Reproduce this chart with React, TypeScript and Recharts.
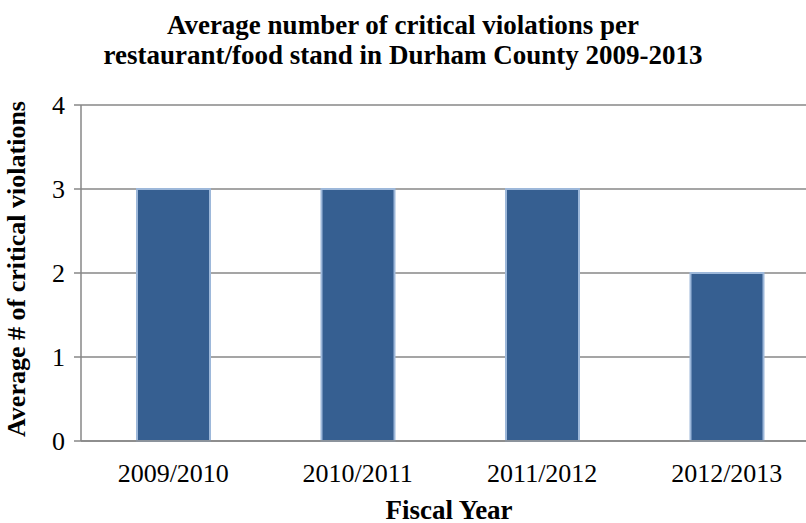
import { BarChart, Bar, XAxis, YAxis, CartesianGrid } from "recharts";

const years = ["2009/2010", "2010/2011", "2011/2012", "2012/2013"];
const avgViolations = [3, 3, 3, 2];
const yTicks = [0, 1, 2, 3, 4];

const data = years.map((year, i) => ({ year, value: avgViolations[i] }));

const FONT = '"Liberation Serif", "Times New Roman", serif';

export default function App() {
  return (
    <div
      style={{
        position: "absolute",
        left: 0,
        top: 0,
        width: 806,
        height: 523,
        overflow: "hidden",
        background: "#fff",
        fontFamily: FONT,
        color: "#000",
      }}
    >
      {/* Title */}
      <div
        style={{
          position: "absolute",
          left: 0,
          top: 10,
          width: 806,
          textAlign: "center",
          fontWeight: "bold",
          fontSize: 27,
          lineHeight: "30px",
        }}
      >
        Average number of critical violations per
        <br />
        restaurant/food stand in Durham County 2009-2013
      </div>

      <div style={{ position: "absolute", left: 0, top: 0 }}>
        <BarChart
          width={840}
          height={523}
          data={data}
          margin={{ top: 105, right: 21, bottom: 0, left: 0 }}
          barSize={73}
        >
          <CartesianGrid vertical={false} stroke="#878787" strokeWidth={1.5} />
          <XAxis
            dataKey="year"
            height={82}
            axisLine={{ stroke: "#878787", strokeWidth: 1.5 }}
            tickLine={false}
            tick={{ fill: "#000", fontSize: 26, fontFamily: FONT }}
            tickMargin={17}
          />
          <YAxis
            width={81}
            domain={[0, 4]}
            ticks={yTicks}
            interval={0}
            axisLine={{ stroke: "#878787", strokeWidth: 1.5 }}
            tickLine={{ stroke: "#878787", strokeWidth: 1.5 }}
            tickSize={7}
            tickMargin={9}
            tick={{ fill: "#000", fontSize: 26, fontFamily: FONT }}
          />
          <Bar
            dataKey="value"
            fill="#365F91"
            stroke="#9DB8DA"
            strokeWidth={2}
            isAnimationActive={false}
          />
        </BarChart>
      </div>

      {/* Y axis title */}
      <div
        style={{
          position: "absolute",
          left: 17,
          top: 269,
          transform: "translate(-50%, -50%) rotate(-90deg)",
          whiteSpace: "nowrap",
          fontWeight: "bold",
          fontSize: 26,
        }}
      >
        Average # of critical violations
      </div>

      {/* X axis title */}
      <div
        style={{
          position: "absolute",
          left: 449,
          top: 510,
          transform: "translate(-50%, -50%)",
          whiteSpace: "nowrap",
          fontWeight: "bold",
          fontSize: 27,
        }}
      >
        Fiscal Year
      </div>
    </div>
  );
}
